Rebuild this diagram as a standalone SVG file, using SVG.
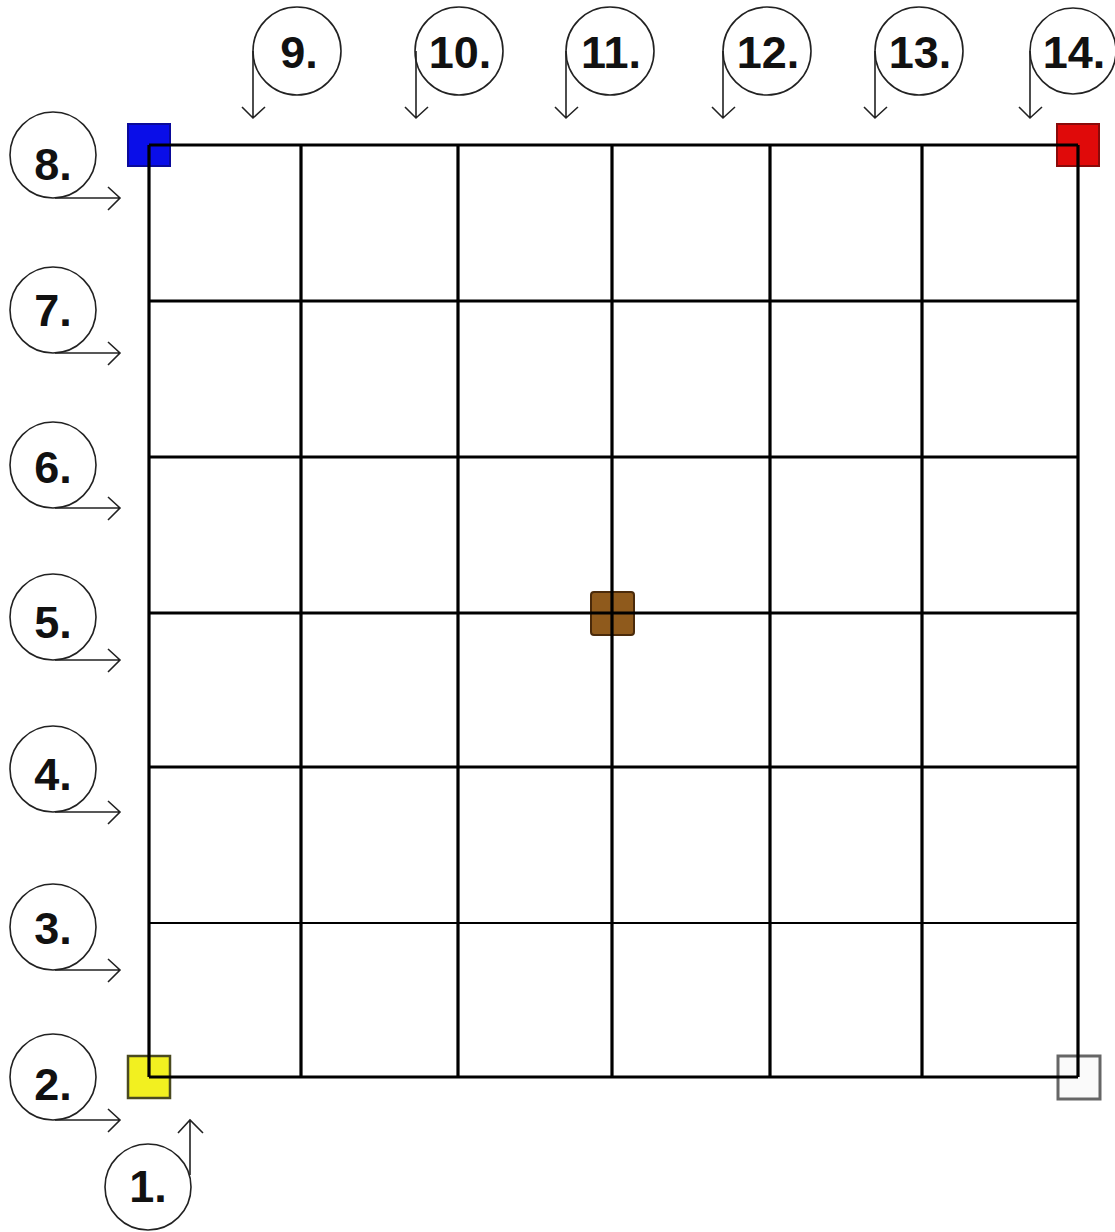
<svg xmlns="http://www.w3.org/2000/svg" width="1115" height="1232" viewBox="0 0 1115 1232">
<style>
.lbl{fill:none;stroke:#222;stroke-width:1.6}
.t{font-family:"Liberation Sans",Arial,sans-serif;font-weight:bold;font-size:45px;fill:#111;text-anchor:middle}
.grid{stroke:#000;stroke-width:3.2;fill:none}
.thin{stroke:#000;stroke-width:2;fill:none}
.arr{fill:none;stroke:#222;stroke-width:1.6}
</style>
<rect width="1115" height="1232" fill="#fff"/>
<g id="markers">
<rect id="m-blue" x="128" y="124" width="42" height="42" fill="#0a0ee8" stroke="#0a0a9a" stroke-width="2"/>
<rect id="m-red" x="1057" y="124" width="42" height="42" fill="#e00a0a" stroke="#8a0a0a" stroke-width="2"/>
<rect id="m-yellow" x="128" y="1056" width="42" height="42" fill="#f2f020" stroke="#4a4a20" stroke-width="2.5"/>
<rect id="m-white" x="1058" y="1056" width="42" height="43" fill="#fafafa" stroke="#666" stroke-width="3"/>
<rect id="m-brown" x="591" y="592" width="43" height="43" rx="3" fill="#8f5a1c" stroke="#4a2a0a" stroke-width="2"/>
</g>
<g id="grid">
<path class="grid" d="M149 145V1077M301 145V1077M458 145V1077M612 145V1077M770 145V1077M922 145V1077M1078 145V1077"/>
<path class="grid" d="M149 145H1078M149 301H1078M149 457H1078M149 613H1078M149 767H1078M149 1077H1078"/>
<path class="thin" d="M149 923H1078"/>
</g>
<g id="label-8"><circle class="lbl" cx="53" cy="155" r="43"/><text class="t" x="53" y="180">8.</text></g>
<g id="label-7"><circle class="lbl" cx="53" cy="310" r="43"/><text class="t" x="53" y="326">7.</text></g>
<g id="label-6"><circle class="lbl" cx="53" cy="465" r="43"/><text class="t" x="53" y="483">6.</text></g>
<g id="label-5"><circle class="lbl" cx="53" cy="617" r="43"/><text class="t" x="53" y="638">5.</text></g>
<g id="label-4"><circle class="lbl" cx="53" cy="769" r="43"/><text class="t" x="53" y="790">4.</text></g>
<g id="label-3"><circle class="lbl" cx="53" cy="927" r="43"/><text class="t" x="53" y="944">3.</text></g>
<g id="label-2"><circle class="lbl" cx="53" cy="1077" r="43"/><text class="t" x="53" y="1100">2.</text></g>
<g id="label-1"><circle class="lbl" cx="148" cy="1187" r="43"/><text class="t" x="148" y="1202">1.</text></g>
<g id="label-9"><circle class="lbl" cx="297" cy="51" r="44"/><text class="t" x="299" y="68">9.</text></g>
<g id="label-10"><circle class="lbl" cx="459" cy="51" r="44"/><text class="t" x="460" y="68">10.</text></g>
<g id="label-11"><circle class="lbl" cx="610" cy="51" r="44"/><text class="t" x="611" y="68">11.</text></g>
<g id="label-12"><circle class="lbl" cx="767" cy="51" r="44"/><text class="t" x="768" y="68">12.</text></g>
<g id="label-13"><circle class="lbl" cx="919" cy="51" r="44"/><text class="t" x="920" y="68">13.</text></g>
<g id="label-14"><circle class="lbl" cx="1073" cy="51" r="43"/><text class="t" x="1074" y="68">14.</text></g>
<g id="connectors" class="arr">
<path d="M55 198H120M108 187L120 198L108 210"/>
<path d="M55 353H120M108 342L120 353L108 365"/>
<path d="M55 508H120M108 497L120 508L108 520"/>
<path d="M55 660H120M108 649L120 660L108 672"/>
<path d="M55 812H120M108 801L120 812L108 824"/>
<path d="M55 970H120M108 959L120 970L108 982"/>
<path d="M55 1120H120M108 1109L120 1120L108 1132"/>
<path d="M190 1175V1120M178 1133L190 1120L203 1133"/>
<path d="M253 51V118M242 107L253 118L265 107"/>
<path d="M416 51V118M405 107L416 118L428 107"/>
<path d="M566 51V118M555 107L566 118L578 107"/>
<path d="M723 51V118M712 107L723 118L735 107"/>
<path d="M875 51V118M864 107L875 118L887 107"/>
<path d="M1030 51V118M1019 107L1030 118L1042 107"/>
</g>
</svg>
